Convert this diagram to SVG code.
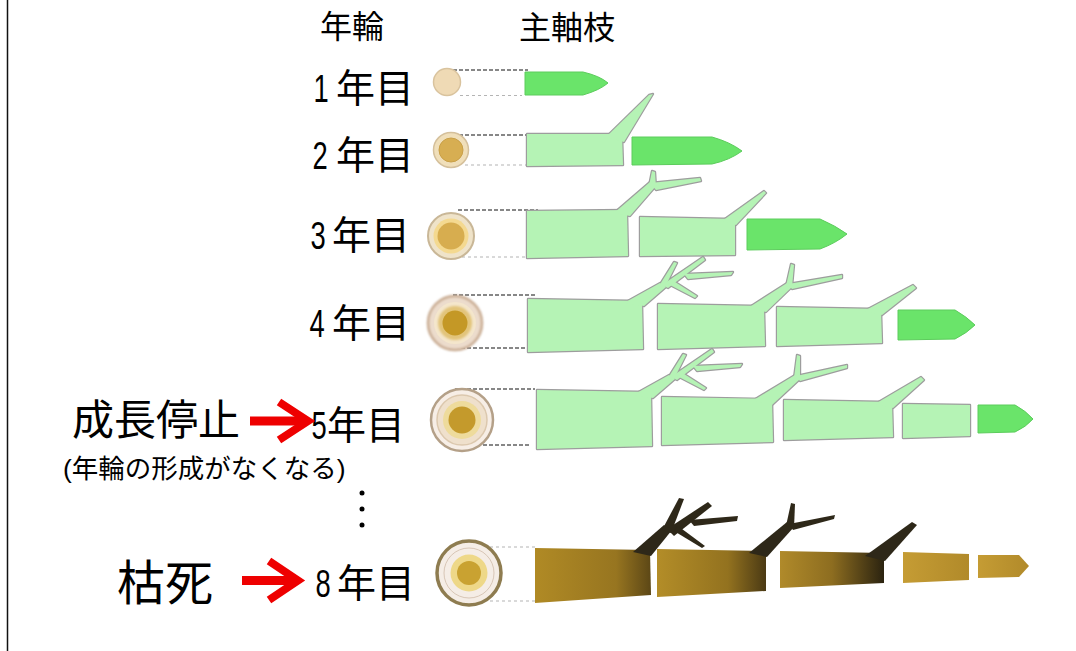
<svg xmlns="http://www.w3.org/2000/svg" xmlns:xlink="http://www.w3.org/1999/xlink" width="1076" height="651" viewBox="0 0 1076 651">
  <style>
    .jp{font-family:"Noto Sans CJK JP","Noto Sans CJK SC",sans-serif;fill:#000}
    .dg{font-family:"Liberation Sans",Arial,sans-serif;font-size:38px;fill:#000;text-anchor:middle}
    .yr{font-size:39px}
    .ol{fill:#b5f3b5;stroke:#9d9d9d;stroke-width:2.4;stroke-linejoin:round}
    .fl{fill:#b5f3b5;stroke:none}
    .tip{fill:#6ae46a;stroke:#5ccc5c;stroke-width:1}
    .dash{stroke:#111;stroke-width:1.2;stroke-dasharray:4 2;fill:none}
    .dot{stroke:#b4b4b4;stroke-width:1.2;stroke-dasharray:3 3;fill:none}
    .twig{fill:#2e2819}
    .red{fill:#ee0000}
    .redl{stroke:#ee0000;fill:none;stroke-width:8;stroke-linecap:butt;stroke-linejoin:miter}
  </style>
  <defs>
    <linearGradient id="br1" x1="0" y1="0" x2="1" y2="0">
      <stop offset="0" stop-color="#b08a25"/>
      <stop offset="0.7" stop-color="#977520"/>
      <stop offset="1" stop-color="#5c4716"/>
    </linearGradient>
    <linearGradient id="br2" x1="0" y1="0" x2="1" y2="0">
      <stop offset="0" stop-color="#b38d28"/>
      <stop offset="0.65" stop-color="#93721f"/>
      <stop offset="1" stop-color="#4b3a14"/>
    </linearGradient>
    <linearGradient id="br3" x1="0" y1="0" x2="1" y2="0">
      <stop offset="0" stop-color="#b08a2a"/>
      <stop offset="0.5" stop-color="#8d6d20"/>
      <stop offset="1" stop-color="#2b2310"/>
    </linearGradient>
    <linearGradient id="br4" x1="0" y1="0" x2="1" y2="0">
      <stop offset="0" stop-color="#c59c34"/>
      <stop offset="1" stop-color="#b18a2a"/>
    </linearGradient>
    <filter id="soft" x="-20%" y="-20%" width="140%" height="140%">
      <feGaussianBlur stdDeviation="1.2"/>
    </filter>

    <!-- light green branch segments: body plus side branches -->
    <g id="s2a">
      <path d="M527,134 L622,134 L623,165 L527,166 Z"/>
      <polygon points="606,137 649,95 653,94 624,142"/>
    </g>
    <g id="s3a">
      <path d="M527,211 L627,210 L628,256 L527,258 Z"/>
      <polygon points="614,213 650,182 656,186 630,216"/>
      <polygon points="649,186 652,171 655,172 656,188"/>
      <polygon points="650,183 700,178 701,181 656,190"/>
    </g>
    <g id="s3b">
      <path d="M640,217 L735,219 L735,255 L640,256 Z"/>
      <polygon points="722,221 764,191 766,193 736,225"/>
    </g>
    <g id="s4a">
      <path d="M528,299 L642,301 L643,349 L528,352 Z"/>
      <polygon points="624,303 660,283 666,287 644,306"/>
      <polygon points="659,286 674,262 677,263 665,287"/>
      <polygon points="662,285 703,257 705,260 668,288"/>
      <polygon points="684,274 733,272 731,275 688,279"/>
      <polygon points="672,280 697,296 695,298 668,284"/>
    </g>
    <g id="s4b">
      <path d="M658,304 L764,306 L765,346 L658,349 Z"/>
      <polygon points="748,308 787,283 792,287 766,312"/>
      <polygon points="786,286 791,264 794,265 792,287"/>
      <polygon points="788,284 842,275 842,278 792,289"/>
    </g>
    <g id="s4c">
      <path d="M777,307 L881,309 L882,343 L777,346 Z"/>
      <polygon points="864,311 913,285 916,288 882,315"/>
    </g>
    <g id="s5a">
      <path d="M537,390 L651,392 L652,446 L537,449 Z"/>
      <polygon points="633,395 669,375 675,379 653,398"/>
      <polygon points="668,378 683,354 686,355 674,379"/>
      <polygon points="671,377 712,349 714,352 677,380"/>
      <polygon points="693,366 742,364 740,367 697,371"/>
      <polygon points="681,372 706,388 704,390 677,376"/>
    </g>
    <g id="s5b">
      <path d="M662,397 L772,399 L773,442 L662,445 Z"/>
      <polygon points="752,401 795,375 800,379 772,405"/>
      <polygon points="794,378 797,355 800,356 800,379"/>
      <polygon points="796,376 847,365 847,368 800,381"/>
    </g>
    <g id="s5c">
      <path d="M784,400 L892,402 L893,437 L784,440 Z"/>
      <polygon points="875,404 921,377 924,380 893,408"/>
    </g>
    <g id="s5d">
      <path d="M903,404 L970,405 L970,436 L903,438 Z"/>
    </g>
  </defs>

  <!-- page edge -->
  <line x1="7.5" y1="0" x2="7.5" y2="651" stroke="#111" stroke-width="1.5"/>

  <!-- column headings -->
  <g id="headings" class="jp" font-size="32">
    <text x="320" y="38">年輪</text>
    <text x="519" y="39">主軸枝</text>
  </g>

  <!-- year labels -->
  <g id="year-labels">
    <text class="dg" transform="translate(321,102) scale(0.72,1)">1</text>
    <text class="jp yr" x="336" y="102">年目</text>
    <text class="dg" transform="translate(320,169) scale(0.72,1)">2</text>
    <text class="jp yr" x="336" y="169">年目</text>
    <text class="dg" transform="translate(318,249) scale(0.72,1)">3</text>
    <text class="jp yr" x="332" y="249">年目</text>
    <text class="dg" transform="translate(317,337) scale(0.72,1)">4</text>
    <text class="jp yr" x="332" y="337">年目</text>
    <text class="dg" transform="translate(319,439) scale(0.72,1)">5</text>
    <text class="jp yr" x="327" y="439">年目</text>
    <text class="dg" transform="translate(323,597) scale(0.72,1)">8</text>
    <text class="jp yr" x="337" y="597">年目</text>
  </g>

  <!-- stage notes -->
  <g id="note-stop">
    <text class="jp" x="72" y="435" font-size="42">成長停止</text>
    <text x="63" y="478" font-size="26.5" font-family="Liberation Sans, Noto Sans CJK JP, sans-serif">(年輪の形成がなくなる)</text>
  </g>
  <g id="note-dead">
    <text class="jp" x="117" y="600" font-size="48">枯死</text>
  </g>
  <g id="ellipsis" fill="#000">
    <circle cx="362" cy="493" r="2.5"/>
    <circle cx="362" cy="509" r="2.5"/>
    <circle cx="362" cy="525" r="2.5"/>
  </g>

  <!-- connectors: red arrows and projection guides -->
  <g id="connectors">
    <rect class="red" x="250" y="416.5" width="52" height="9"/>
    <polyline class="redl" points="279,402 308,421 279,440"/>
    <rect class="red" x="242" y="576" width="50" height="9"/>
    <polyline class="redl" points="269,561 298,580.5 269,600"/>

    <line class="dash" x1="447" y1="70" x2="528" y2="70"/>
    <line class="dot" x1="460" y1="95.5" x2="522" y2="95.5"/>
    <line class="dash" x1="447" y1="135" x2="528" y2="135"/>
    <line class="dot" x1="465" y1="165" x2="527" y2="165"/>
    <line class="dash" x1="458" y1="210" x2="538" y2="210"/>
    <line class="dot" x1="462" y1="257" x2="527" y2="257"/>
    <line class="dash" x1="453" y1="295" x2="535" y2="295"/>
    <line class="dash" x1="449" y1="348" x2="530" y2="348"/>
    <line class="dash" x1="455" y1="389" x2="535" y2="389"/>
    <line class="dash" x1="453" y1="445" x2="531" y2="445"/>
    <line class="dot" x1="490" y1="547" x2="535" y2="547"/>
    <line class="dot" x1="490" y1="601" x2="535" y2="601"/>
  </g>

  <!-- year 1 -->
  <g id="year1">
    <circle cx="447" cy="82" r="13.5" fill="#efdab5" stroke="#d9c39e" stroke-width="1.5"/>
    <path class="tip" d="M525,72 L583,72 Q600,76 608,83 Q600,90 583,95 L525,95 Z"/>
  </g>

  <!-- year 2 -->
  <g id="year2">
    <circle cx="451" cy="150" r="17.5" fill="#f0dfba" stroke="#d5c09b" stroke-width="1.5"/>
    <circle cx="451" cy="150" r="12" fill="#d7ae52" stroke="#c9a048" stroke-width="1"/>
    <use xlink:href="#s2a" class="ol"/>
    <use xlink:href="#s2a" class="fl"/>
    <path class="tip" d="M632,137 L712,137 Q730,142 742,151 Q730,160 712,164 L632,165 Z"/>
  </g>

  <!-- year 3 -->
  <g id="year3">
    <circle cx="451" cy="236" r="23" fill="#efe3c9" stroke="#c9b797" stroke-width="2"/>
    <circle cx="451" cy="236" r="17.5" fill="#f4d990"/>
    <circle cx="451" cy="236" r="13.5" fill="#d7ad4f"/>
    <use xlink:href="#s3a" class="ol"/>
    <use xlink:href="#s3a" class="fl"/>
    <use xlink:href="#s3b" class="ol"/>
    <use xlink:href="#s3b" class="fl"/>
    <path class="tip" d="M747,219 L820,219 Q836,226 847,234 Q836,243 820,249 L747,250 Z"/>
  </g>

  <!-- year 4 -->
  <g id="year4">
    <circle cx="455" cy="323" r="27" fill="#ecdccc" stroke="#c8aa90" stroke-width="2.5" filter="url(#soft)"/>
    <circle cx="455" cy="323" r="21" fill="#f4e6cc"/>
    <circle cx="455" cy="323" r="17" fill="#e2c47a" filter="url(#soft)"/>
    <circle cx="455" cy="323" r="12.5" fill="#c49826"/>
    <use xlink:href="#s4a" class="ol"/>
    <use xlink:href="#s4a" class="fl"/>
    <use xlink:href="#s4b" class="ol"/>
    <use xlink:href="#s4b" class="fl"/>
    <use xlink:href="#s4c" class="ol"/>
    <use xlink:href="#s4c" class="fl"/>
    <path class="tip" d="M898,310 L955,310 Q967,317 975,325 Q967,333 955,339 L898,340 Z"/>
  </g>

  <!-- year 5 -->
  <g id="year5">
    <circle cx="462" cy="420" r="31" fill="#f7eee6" stroke="#b4a088" stroke-width="2.5"/>
    <circle cx="462" cy="420" r="25" fill="#efe0cc" stroke="#dcc8ae" stroke-width="1.5"/>
    <circle cx="462" cy="420" r="19" fill="#eedb9c"/>
    <circle cx="462" cy="420" r="13.5" fill="#c49a2c"/>
    <use xlink:href="#s5a" class="ol"/>
    <use xlink:href="#s5a" class="fl"/>
    <use xlink:href="#s5b" class="ol"/>
    <use xlink:href="#s5b" class="fl"/>
    <use xlink:href="#s5c" class="ol"/>
    <use xlink:href="#s5c" class="fl"/>
    <use xlink:href="#s5d" class="ol"/>
    <use xlink:href="#s5d" class="fl"/>
    <path class="tip" d="M978,405 L1015,405 Q1026,411 1033,419 Q1026,427 1015,432 L978,433 Z"/>
  </g>

  <!-- year 8: dead shoot -->
  <g id="year8">
    <circle cx="469" cy="573" r="32" fill="#f5ede6" stroke="#8e7c50" stroke-width="3.5"/>
    <circle cx="469" cy="573" r="25" fill="none" stroke="#d8c6b6" stroke-width="1"/>
    <circle cx="469" cy="573" r="18.5" fill="#eed888"/>
    <circle cx="469" cy="573" r="12" fill="#c9a231"/>

    <path d="M535,548 L650,550 L651,595 L535,603 Z" fill="url(#br1)"/>
    <polygon class="twig" points="633,552 664,525 672,530 651,556"/>
    <polygon class="twig" points="662,530 679,498 684,499 671,533"/>
    <polygon class="twig" points="667,529 708,502 712,506 674,536"/>
    <polygon class="twig" points="689,520 738,516 737,521 694,526"/>
    <polygon class="twig" points="678,526 705,546 702,548 674,531"/>

    <path d="M657,549 L766,551 L766,591 L657,597 Z" fill="url(#br2)"/>
    <polygon class="twig" points="749,553 787,522 794,527 767,557"/>
    <polygon class="twig" points="786,526 791,503 795,504 794,528"/>
    <polygon class="twig" points="789,524 835,515 834,519 793,530"/>

    <path d="M780,551 L884,553 L884,583 L780,588 Z" fill="url(#br3)"/>
    <polygon class="twig" points="865,556 912,522 917,525 885,561"/>

    <path d="M903,552 L969,554 L969,580 L903,583 Z" fill="url(#br4)"/>
    <path d="M978,555 L1019,555 L1029,566 L1019,577 L978,578 Z" fill="url(#br4)"/>
  </g>
</svg>
